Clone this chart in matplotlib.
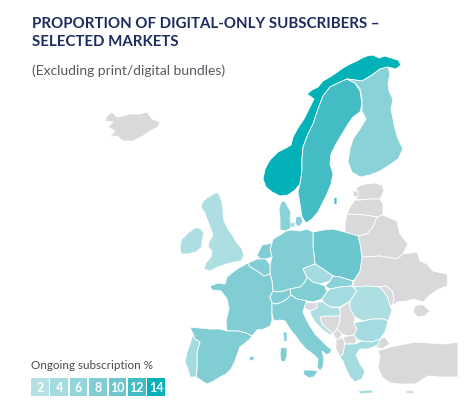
import numpy as np
import matplotlib.pyplot as plt
from matplotlib.patches import Polygon, Rectangle
from matplotlib.colors import LinearSegmentedColormap, Normalize

# share of digital-only subscribers (%), selected markets
countries = ['Norway', 'Sweden', 'Finland', 'Denmark', 'Poland', 'Germany',
             'Netherlands', 'Belgium', 'France', 'Switzerland', 'Austria',
             'Italy', 'Spain', 'Portugal', 'UK', 'Ireland', 'Czechia',
             'Slovakia', 'Hungary', 'Croatia', 'Romania', 'Bulgaria', 'Greece']
values = [14, 12, 7, 7, 10, 8,
          8, 8, 8, 8, 8,
          8, 8, 4, 3, 3, 4,
          7, 4, 3, 3, 4, 4]

legend_steps = [2, 4, 6, 8, 10, 12, 14]
legend_colors = ['#b6e1e4', '#a4dbe0', '#92d5da', '#80ced4', '#6bc7cd', '#44bcc3', '#03b1b9']

# outlines (pixel space of the picture)
shapes = {
    'Norway': [[(280,197),(272,193),(266,188),(263,180),(265,170),(270,161),(278,153),(286,149),(291,146),
                (293,138),(298,129),(304,120),(309,110),(314,100),(307,95),(312,91),(318,88),(323,82),
                (330,78),(336,74),(343,69),(350,65),(357,62),(362,59),(367,57),(373,56),(379,59),
                (385,57),(391,59),(398,61),(401,66),(396,70),(388,68),(380,70),(372,76),(362,82),
                (355,81),(347,80),(338,84),(330,88),(323,97),(318,110),(313,125),(308,135),(303,148),
                (302,160),(302,172),(300,185),(295,191),(288,196)]],
    'Sweden': [[(300,185),(302,172),(302,160),(303,148),(308,135),(313,125),(318,110),(323,97),(330,88),
                (338,84),(347,80),(355,84),(360,92),(362,105),(360,113),(353,118),(348,125),(342,135),
                (336,145),(331,155),(330,165),(333,175),(331,185),(327,195),(322,205),(318,213),
                (312,220),(306,224),(302,218),(300,205),(298,193)],
               [(334,198),(337,199),(337,206),(334,205)]],
    'Finland': [[(347,80),(355,81),(362,82),(372,76),(380,70),(388,68),(390,75),(388,84),(389,92),
                 (393,100),(391,110),(393,120),(395,130),(398,140),(403,150),(398,160),(388,167),
                 (380,172),(370,176),(360,178),(352,173),(348,163),(350,150),(353,140),(360,130),
                 (366,120),(362,112),(362,100),(360,90),(355,84)]],
    'Denmark': [[(281,203),(285,202),(288,208),(291,213),(290,220),(292,228),(286,232),(280,231),
                 (280,220),(279,210)],
                [(296,218),(301,217),(303,223),(299,228),(295,225)],
                [(291,224),(294,223),(295,228),(291,228)]],
    'Germany': [[(273,240),(280,236),(286,232),(292,231),(300,232),(307,230),(313,233),(313,247),
                 (315,265),(307,268),(303,270),(307,278),(305,283),(300,288),(290,290),(284,292),
                 (277,293),(273,292),(272,282),(270,275),(270,266),(272,258),(270,250),(272,244)]],
    'Netherlands': [[(262,246),(272,244),(270,250),(272,258),(266,260),(260,260),(257,256),(260,250)]],
    'Belgium': [[(248,264),(257,260),(266,260),(270,266),(270,275),(264,277),(257,272),(250,268)]],
    'France': [[(210,287),(218,284),(225,285),(227,278),(237,270),(248,264),(250,268),(257,272),
                (264,277),(270,275),(272,282),(273,292),(270,298),(272,304),(272,312),(272,322),
                (270,327),(264,330),(257,331),(252,337),(246,334),(238,332),(227,332),(226,322),
                (229,310),(227,300),(221,292),(212,291)],
               [(283,333),(287,333),(287,343),(284,342)]],
    'Switzerland': [[(273,292),(277,293),(284,292),(290,290),(291,296),(287,300),(282,303),(277,305),
                     (272,304),(270,298)]],
    'Austria': [[(290,290),(300,288),(305,283),(307,278),(313,283),(320,285),(325,287),(327,293),
                 (322,300),(313,303),(307,302),(297,300),(291,296)]],
    'Italy': [[(272,304),(277,305),(282,303),(287,300),(291,296),(297,300),(307,302),(305,306),
               (303,313),(307,322),(310,327),(315,335),(320,340),(326,346),(332,351),(330,354),
               (327,356),(322,352),(324,360),(323,368),(320,372),(317,368),(318,360),(313,355),
               (306,350),(300,343),(295,336),(290,330),(285,322),(280,321),(274,322),(272,315)],
              [(304,371),(311,371),(318,372),(314,378),(309,379),(303,375)],
              [(281,348),(287,349),(287,357),(285,363),(281,362),(280,355)]],
    'Spain': [[(190,328),(200,329),(210,330),(220,330),(227,332),(238,332),(246,334),(252,337),
               (250,340),(244,345),(240,348),(237,356),(235,362),(231,370),(226,375),(220,378),
               (212,383),(207,385),(202,382),(196,378),(197,370),(197,363),(197,353),(200,343),
               (195,340),(193,335)],
              [(249,358),(254,357),(254,361),(250,362)]],
    'Portugal': [[(193,335),(195,340),(200,343),(197,353),(197,363),(197,370),(196,378),(190,378),
                  (188,370),(185,363),(187,353),(190,345)]],
    'UK': [[(217,193),(212,196),(207,199),(203,202),(201,208),(205,214),(207,220),(210,228),
            (213,236),(209,243),(208,248),(212,252),(211,258),(206,264),(204,270),(210,272),
            (218,268),(227,265),(235,263),(241,262),(244,257),(242,250),(237,244),(233,237),
            (228,230),(224,222),(223,212),(222,203),(220,197)]],
    'Ireland': [[(180,247),(182,240),(188,234),(195,229),(200,229),(204,234),(202,242),(202,248),
                 (196,253),(188,255),(181,255)]],
    'Czechia': [[(303,270),(307,268),(315,265),(323,270),(333,277),(330,282),(320,285),(313,283),
                 (307,278)]],
    'Slovakia': [[(330,282),(333,277),(340,278),(353,282),(352,287),(340,288),(330,290),(325,287)]],
    'Hungary': [[(327,293),(330,290),(340,288),(352,287),(357,292),(350,302),(340,308),(330,308),
                 (323,303),(322,300)]],
    'Croatia': [[(317,303),(323,303),(330,308),(340,309),(340,317),(327,317),(320,318),(322,325),
                 (327,330),(333,335),(330,336),(322,330),(315,323),(311,316),(310,312),(317,309)]],
    'Romania': [[(353,288),(367,287),(380,288),(387,297),(390,306),(392,312),(388,322),(383,320),
                 (373,320),(363,322),(355,318),(350,310),(350,302),(357,292)]],
    'Bulgaria': [[(354,324),(363,322),(373,320),(383,320),(388,322),(385,333),(380,340),(372,343),
                  (362,342),(357,340),(354,336),(357,330)]],
    'Greece': [[(345,345),(355,345),(362,342),(372,343),(380,340),(378,346),(368,350),(360,350),
                (356,356),(360,365),(365,372),(362,380),(355,383),(350,378),(346,370),(343,362),
                (340,358),(343,355)],
               [(358,392),(366,391),(373,391),(372,394),(360,395)]],
    'Poland': [[(313,233),(323,231),(333,230),(345,233),(358,237),(360,245),(362,258),(360,272),
                (355,280),(353,282),(340,278),(333,277),(323,270),(315,265),(313,247)]],
}

# markets outside the survey, drawn grey
grey_shapes = [
    [(107,117),(112,113),(117,118),(123,117),(130,115),(140,115),(147,113),(152,120),(160,123),
     (158,128),(150,132),(143,137),(133,142),(123,142),(117,137),(110,138),(115,132),(108,128),
     (113,123),(105,122)],
    [(357,188),(365,185),(375,184),(382,186),(384,192),(381,198),(380,200),(370,200),(360,201),(355,199)],
    [(353,192),(358,192),(358,198),(353,197)],
    [(355,201),(360,201),(370,200),(380,200),(383,205),(383,216),(377,218),(365,216),(347,215),(350,208)],
    [(347,215),(365,216),(377,218),(373,228),(367,235),(358,237),(345,233),(345,225)],
    [(377,218),(383,216),(397,222),(400,235),(408,245),(403,255),(397,260),(380,257),(362,258),
     (360,245),(358,237),(367,235),(373,228)],
    [(362,258),(380,257),(397,260),(403,255),(417,253),(420,262),(427,265),(433,272),(447,275),
     (448,282),(447,287),(437,291),(430,296),(423,303),(413,300),(407,302),(397,303),(392,307),
     (394,300),(392,292),(386,287),(380,288),(367,287),(353,288),(353,285),(355,280),(360,272)],
    [(415,307),(422,305),(430,312),(425,317),(418,318),(413,313)],
    [(380,288),(386,287),(392,292),(394,300),(392,307),(390,306),(387,297)],
    [(305,303),(313,304),(317,303),(317,309),(310,312),(304,309)],
    [(320,318),(327,317),(340,317),(340,322),(337,330),(333,335),(327,330),(322,325)],
    [(340,309),(350,302),(350,310),(355,318),(354,324),(357,330),(354,336),(348,337),(342,335),
     (337,330),(340,322),(340,317)],
    [(333,335),(337,330),(342,335),(340,340),(336,340)],
    [(336,340),(340,340),(343,338),(345,345),(343,355),(340,358),(336,350)],
    [(343,338),(348,337),(354,336),(357,340),(355,345),(345,345)],
    [(377,341),(385,338),(390,345),(382,350),(376,348)],
    [(378,352),(390,348),(400,346),(415,343),(430,344),(445,345),(458,343),(458,378),(440,378),
     (428,377),(415,385),(400,385),(390,384),(382,378),(378,368),(380,358)],
    [(405,392),(412,391),(415,394),(407,395)],
]

cmap = LinearSegmentedColormap.from_list('subs', legend_colors)
norm = Normalize(vmin=2, vmax=14)

fig = plt.figure(figsize=(4.68, 4.06), dpi=100)
ax = fig.add_axes([0, 0, 1, 1])
ax.set_xlim(0, 468)
ax.set_ylim(406, 0)
ax.axis('off')

for pts in grey_shapes:
    ax.add_patch(Polygon(pts, closed=True, facecolor='#d9d9db', edgecolor='white', linewidth=0.6))

for name, val in zip(countries, values):
    for pts in shapes[name]:
        ax.add_patch(Polygon(pts, closed=True, facecolor=cmap(norm(val)),
                             edgecolor='white', linewidth=0.6))

# titles
ax.text(32, 28.5, 'PROPORTION OF DIGITAL-ONLY SUBSCRIBERS \u2013', fontsize=10.8,
        fontweight='bold', family='Lato', color='#1d2b5e', va='baseline')
ax.text(32, 45.5, 'SELECTED MARKETS', fontsize=10.8, fontweight='bold', family='Lato',
        color='#1d2b5e', va='baseline')
ax.text(32, 75, '(Excluding print/digital bundles)', fontsize=10, family='Lato',
        color='#555a60', va='baseline')

# legend
ax.text(31, 369.5, 'Ongoing subscription %', fontsize=8.4, family='Lato',
        color='#4a4a4a', va='baseline')
for i, (step, col) in enumerate(zip(legend_steps, legend_colors)):
    x0 = 31 + i * 19.4
    ax.add_patch(Rectangle((x0, 379), 17.6, 18, facecolor=col, edgecolor='none'))
    ax.text(x0 + 8.8, 388.5, str(step), fontsize=9, fontweight='bold', family='Lato',
            color='white', ha='center', va='center')

plt.savefig('out.png', dpi=100)
